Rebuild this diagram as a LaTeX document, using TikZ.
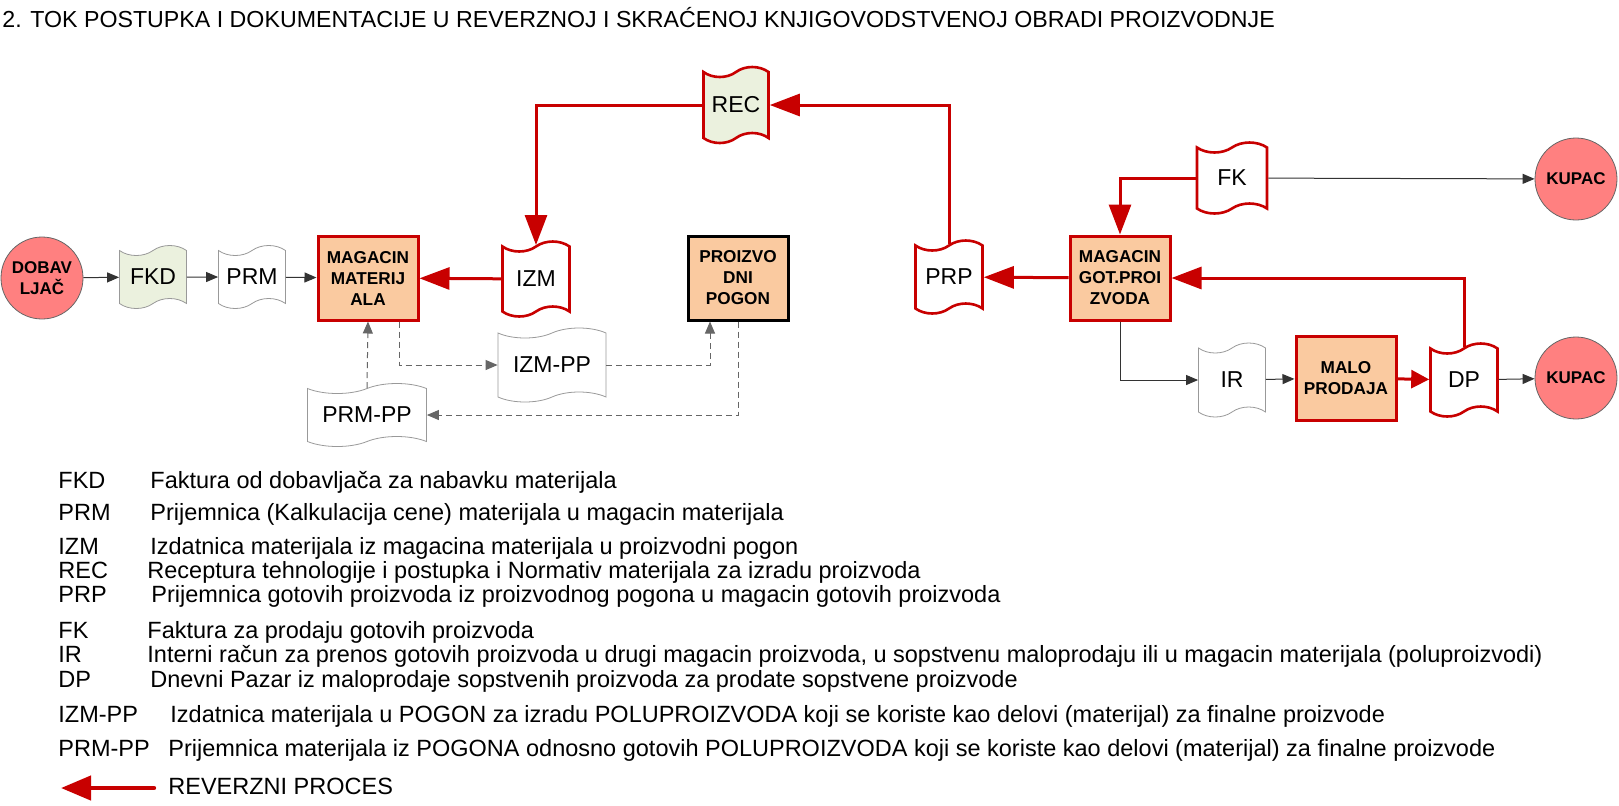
\documentclass[tikz,border=0pt]{standalone}
\usepackage{fontspec}
\setmainfont{Liberation Sans}
\usetikzlibrary{arrows.meta,positioning,shapes.symbols}

\definecolor{revred}{RGB}{200,0,0}
\definecolor{magfill}{RGB}{250,202,160}
\definecolor{partyfill}{RGB}{255,128,128}
\definecolor{docgreen}{RGB}{235,241,222}

\begin{document}
\begin{tikzpicture}[x=0.5pt,y=-0.5pt,
party/.style={circle,draw=gray!80!black,fill=partyfill,minimum size=41pt,inner sep=0pt,align=center,
  font=\fontsize{8.5}{10.5}\selectfont\bfseries},
doc/.style={tape,draw=gray!80,fill=white,minimum width=33.5pt,minimum height=31.5pt,inner sep=0pt,
  font=\fontsize{11.5}{13}\selectfont},
revdoc/.style={doc,draw=revred,line width=1.3pt},
store/.style={draw=revred,line width=1.5pt,fill=magfill,minimum width=50pt,minimum height=42pt,inner sep=0pt,
  align=center,font=\fontsize{8.6}{10.5}\selectfont\bfseries},
flow/.style={draw=black!80,line width=0.5pt,-{Triangle[length=6pt,width=5pt]}},
side/.style={draw=gray!80!black,dash pattern=on 3pt off 2pt,line width=0.5pt,-{Triangle[length=6pt,width=5pt]}},
rev/.style={draw=revred,line width=1.5pt,-{Triangle[length=15pt,width=11pt]}},
legtext/.style={anchor=west,inner sep=0pt,text height=8.5pt,text depth=2.5pt,font=\fontsize{11.75}{13}\selectfont}]
\path[use as bounding box,fill=white] (0,0) rectangle (1619,805);
\node[anchor=west,inner sep=0pt,font=\fontsize{11.6}{14}\selectfont] (title) at (2,18)
  {2. TOK POSTUPKA I DOKUMENTACIJE U REVERZNOJ I SKRAĆENOJ KNJIGOVODSTVENOJ OBRADI PROIZVODNJE};
% materijal
\node[party] (dobav) at (42,278) {DOBAV\\LJAČ};
\node[doc,fill=docgreen] (fkd) at (153,277) {FKD};
\node[doc] (prm) at (252,277) {PRM};
\node[store] (magmat) at (368,278) {MAGACIN\\MATERIJ\\ALA};
\node[revdoc,minimum height=37.5pt] (izm) at (536,279) {IZM};
\node[revdoc,fill=docgreen,minimum width=32.5pt,minimum height=38pt] (rec) at (736,105) {REC};
\node[store,draw=black] (pogon) at (738,278) {PROIZVO\\DNI\\POGON};
\node[doc,minimum width=54pt,minimum height=37pt] (izmpp) at (552,365) {IZM-PP};
\node[doc,minimum width=59.5pt,minimum height=31.5pt] (prmpp) at (367,415) {PRM-PP};
% gotovi proizvodi
\node[revdoc,minimum height=36.5pt] (prp) at (949,277) {PRP};
\node[store] (maggot) at (1120,278) {MAGACIN\\GOT.PROI\\ZVODA};
\node[revdoc,minimum width=35pt,minimum height=35.5pt] (fk) at (1232,178) {FK};
\node[party] (kupac1) at (1576,179) {KUPAC};
\node[doc,minimum height=37pt] (ir) at (1232,380) {IR};
\node[store] (malo) at (1346,378) {MALO\\PRODAJA};
\node[revdoc,minimum height=36.5pt] (dp) at (1464,380) {DP};
\node[party] (kupac2) at (1576,378) {KUPAC};
% tokovi
\draw[flow] (dobav) -- (fkd);
\draw[flow] (fkd) -- (prm);
\draw[flow] (prm) -- (magmat);
\draw[rev] (izm) -- (magmat);
\draw[rev] (rec.west) -| (izm.north);
\draw[rev] (prp.north) |- (rec.east);
\draw[rev] (maggot) -- (prp);
\draw[rev] (fk.west) -| (maggot.north);
\draw[flow] (fk) -- (kupac1);
\draw[flow] (maggot.south) |- (ir.west);
\draw[flow] (ir) -- (malo);
\draw[rev,-{Triangle[length=9pt,width=9pt]}] (malo) -- (dp);
\draw[rev] (dp.north) |- (maggot.east);
\draw[flow] (dp) -- (kupac2);
\draw[side] ([xshift=15.5pt]magmat.south) |- (izmpp.west);
\draw[side] (izmpp.east) -| ([xshift=-14pt]pogon.south);
\draw[side] (pogon.south) |- (prmpp.east);
\draw[side] (prmpp.north) -- (magmat.south);
% legenda
\foreach \abbr/\desc/\dx/\yy [count=\i] in {
  FKD/{Faktura od dobavljača za nabavku materijala}/150/482,
  PRM/{Prijemnica (Kalkulacija cene) materijala u magacin materijala}/150/514,
  IZM/{Izdatnica materijala iz magacina materijala u proizvodni pogon}/150/548,
  REC/{Receptura tehnologije i postupka i Normativ materijala za izradu proizvoda}/147/572,
  PRP/{Prijemnica gotovih proizvoda iz proizvodnog pogona u magacin gotovih proizvoda}/151/596,
  FK/{Faktura za prodaju gotovih proizvoda}/147/632,
  IR/{Interni račun za prenos gotovih proizvoda u drugi magacin proizvoda, u sopstvenu maloprodaju ili u magacin materijala (poluproizvodi)}/147/656,
  DP/{Dnevni Pazar iz maloprodaje sopstvenih proizvoda za prodate sopstvene proizvode}/150/681,
  IZM-PP/{Izdatnica materijala u POGON za izradu POLUPROIZVODA koji se koriste kao delovi (materijal) za finalne proizvode}/170/716,
  PRM-PP/{Prijemnica materijala iz POGONA odnosno gotovih POLUPROIZVODA koji se koriste kao delovi (materijal) za finalne proizvode}/168/750}
{
  \node[legtext] (leg\i) at (58,\yy) {\abbr};
  \node[legtext] (legd\i) at (\dx,\yy) {\desc};
}
\node[legtext] (revlbl) at (168,788) {REVERZNI PROCES};
\coordinate (revend) at (61,788);
\draw[rev,line width=2.2pt,line cap=round,-{Triangle[length=15pt,width=12pt]}] ([xshift=-7pt]revlbl.west) -- (revend);
\end{tikzpicture}
\end{document}
